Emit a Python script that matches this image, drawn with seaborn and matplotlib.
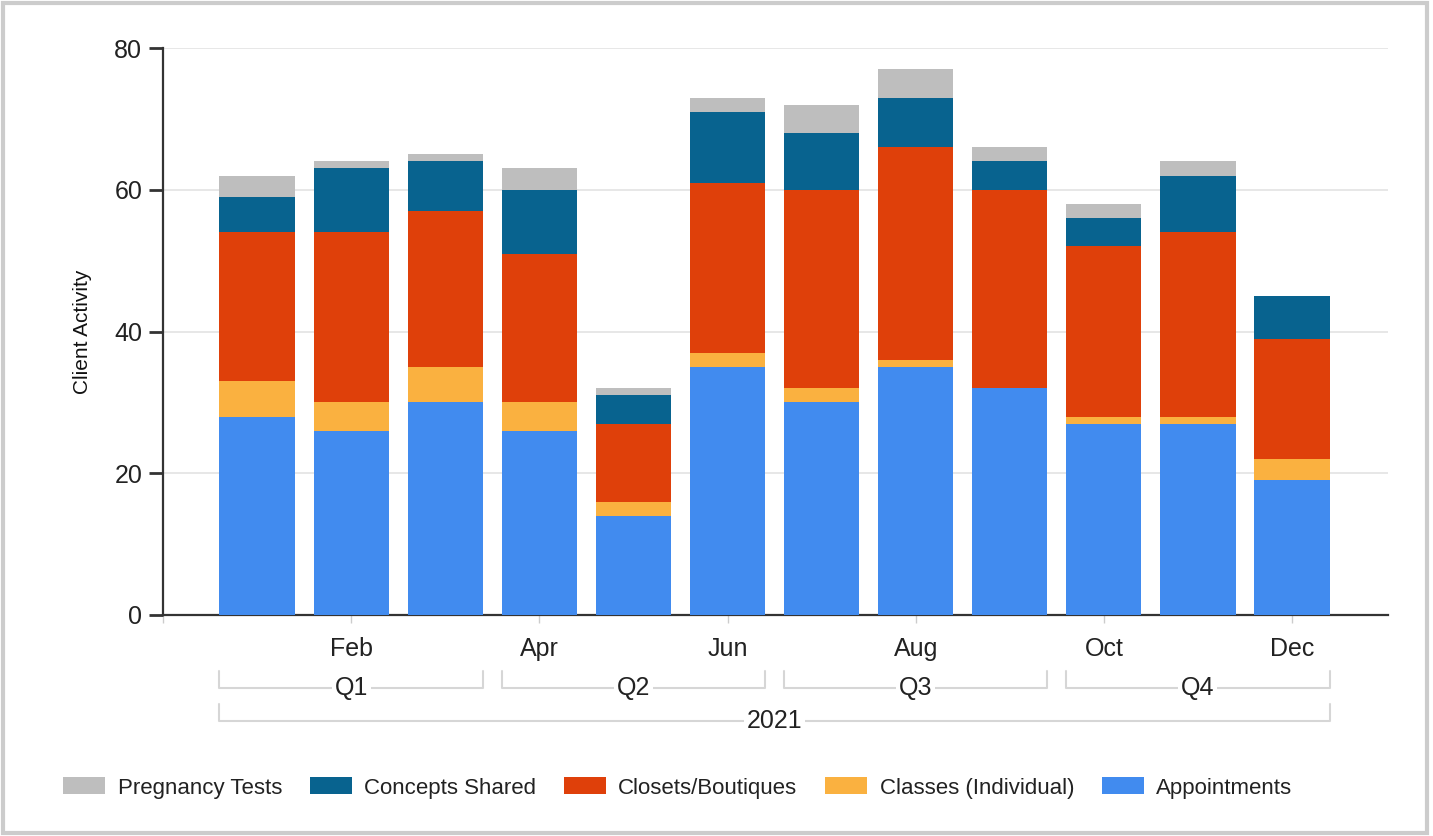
import numpy as np
import pandas as pd
import matplotlib
matplotlib.use('Agg')
import matplotlib.pyplot as plt
from matplotlib.patches import Patch, Rectangle
import matplotlib.transforms as mtransforms
import seaborn as sns

# Data
months = ['Jan', 'Feb', 'Mar', 'Apr', 'May', 'Jun',
          'Jul', 'Aug', 'Sep', 'Oct', 'Nov', 'Dec']
appointments = [28, 26, 30, 26, 14, 35, 30, 35, 32, 27, 27, 19]
classes = [5, 4, 5, 4, 2, 2, 2, 1, 0, 1, 1, 3]
closets = [21, 24, 22, 21, 11, 24, 28, 30, 28, 24, 26, 17]
concepts = [5, 9, 7, 9, 4, 10, 8, 7, 4, 4, 8, 6]
preg_tests = [3, 1, 1, 3, 1, 2, 4, 4, 2, 2, 2, 0]
quarters = ['Q1', 'Q2', 'Q3', 'Q4']
year = '2021'

# bottom to top stack order
series = ['Appointments', 'Classes (Individual)', 'Closets/Boutiques',
          'Concepts Shared', 'Pregnancy Tests']
colors = {'Appointments': '#418bef',
          'Classes (Individual)': '#fab140',
          'Closets/Boutiques': '#df400a',
          'Concepts Shared': '#08638f',
          'Pregnancy Tests': '#bebebe'}

df = pd.DataFrame({'month': months,
                   'Appointments': appointments,
                   'Classes (Individual)': classes,
                   'Closets/Boutiques': closets,
                   'Concepts Shared': concepts,
                   'Pregnancy Tests': preg_tests})
cum = df[series].cumsum(axis=1)
cum['month'] = months

sns.set_style('white')
plt.rcParams['font.family'] = ['Liberation Sans', 'DejaVu Sans']
plt.rcParams['text.color'] = '#222222'

TICK_FS = 18

fig = plt.figure(figsize=(14.33, 8.36), dpi=100)
ax = fig.add_axes([163 / 1433, 1 - 615 / 836, (1388 - 163) / 1433, (615 - 48) / 836])

# draw cumulative totals from top series down so each layer shows
bar_w = 0.8
for s in reversed(series):
    sns.barplot(data=cum, x='month', y=s, order=months, color=colors[s],
                width=bar_w, linewidth=0, saturation=1, ax=ax, zorder=3)

ax.set_ylim(0, 80)
ax.set_xlim(-1, 12.02)
ax.set_yticks([0, 20, 40, 60, 80])
ax.yaxis.grid(True, color='#e3e3e3', linewidth=1.2, zorder=0)
ax.xaxis.grid(False)

xt = [-1, 1, 3, 5, 7, 9, 11]
ax.set_xticks(xt)
ax.set_xticklabels([''] + [months[i] for i in xt[1:]])
ax.tick_params(axis='x', length=6, width=1, color='#cccccc', pad=10,
               labelsize=TICK_FS, labelcolor='#222222', bottom=True)
ax.tick_params(axis='y', length=10, width=2, color='#333333', pad=5,
               labelsize=TICK_FS, labelcolor='#222222', left=True)
ax.set_xlabel('')
ax.set_ylabel('Client Activity', fontsize=15, color='#111111')
ax.yaxis.set_label_coords(-0.058, 0.5)

for side in ['top', 'right']:
    ax.spines[side].set_visible(False)
ax.spines['left'].set_color('#333333')
ax.spines['left'].set_linewidth(1.6)
ax.spines['bottom'].set_color('#333333')
ax.spines['bottom'].set_linewidth(1.6)

# quarter / year brackets under the axis
trans = mtransforms.blended_transform_factory(ax.transData, fig.transFigure)
br_col = '#d6d6d6'


def bracket(x0, x1, y_top_px, y_bot_px, label):
    yt = 1 - y_top_px / 836
    yb = 1 - y_bot_px / 836
    ax.plot([x0, x0, x1, x1], [yt, yb, yb, yt], color=br_col, lw=1.5,
            transform=trans, clip_on=False, zorder=1)
    ax.text((x0 + x1) / 2, yb, label, transform=trans, ha='center',
            va='center', fontsize=TICK_FS, color='#222222', zorder=2,
            bbox=dict(facecolor='white', edgecolor='none', pad=2))


half = bar_w / 2
for qi, q in enumerate(quarters):
    bracket(qi * 3 - half, qi * 3 + 2 + half, 671, 688, q)
bracket(-half, len(months) - 1 + half, 704, 721, year)

# legend in stack order, top first
handles = [Patch(facecolor=colors[s], edgecolor='none') for s in reversed(series)]
fig.legend(handles, list(reversed(series)), loc='center',
           bbox_to_anchor=(0.473, 1 - 788 / 836), ncol=5, frameon=False,
           fontsize=16, handlelength=1.9, handleheight=0.8,
           handletextpad=0.55, columnspacing=1.25)

# light frame around the figure
fig.patches.append(Rectangle((0.002, 0.004), 0.994, 0.993, transform=fig.transFigure,
                             fill=False, edgecolor='#cccccc', linewidth=3))

fig.savefig('out.png', dpi=100)
